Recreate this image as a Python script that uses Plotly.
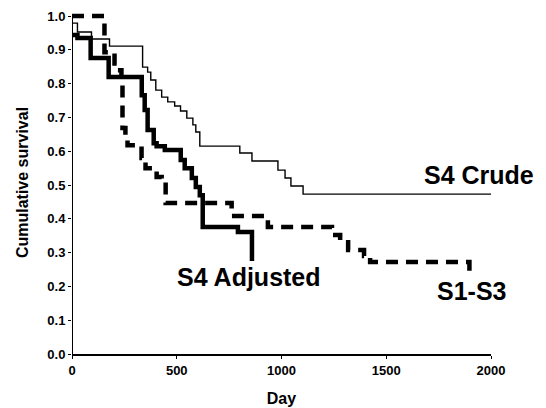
import plotly.graph_objects as go

# Kaplan-Meier style survival estimates (day, cumulative survival)
crude_days = [0, 26, 93, 179, 337, 361, 376, 400, 428, 457, 490, 518, 548, 577,
              591, 610, 801, 859, 983, 1017, 1045, 1103, 2000]
crude_surv = [0.979, 0.953, 0.932, 0.911, 0.849, 0.834, 0.811, 0.781, 0.760, 0.746,
              0.734, 0.719, 0.698, 0.678, 0.657, 0.615, 0.595, 0.571, 0.544, 0.521,
              0.497, 0.473, 0.473]

adj_days = [0, 26, 89, 175, 333, 347, 361, 390, 404, 443, 519, 538, 572, 591, 610,
            624, 792, 859]
adj_surv = [0.944, 0.935, 0.876, 0.820, 0.766, 0.722, 0.663, 0.624, 0.615, 0.604,
            0.574, 0.550, 0.521, 0.494, 0.470, 0.376, 0.361, 0.275]

s13_days = [0, 155, 203, 217, 236, 241, 255, 265, 332, 351, 404, 428, 447, 762, 935,
            1241, 1280, 1318, 1394, 1423, 1897]
s13_surv = [1.0, 0.893, 0.860, 0.840, 0.805, 0.669, 0.648, 0.618, 0.580, 0.550, 0.524,
            0.509, 0.447, 0.408, 0.376, 0.352, 0.331, 0.308, 0.290, 0.272, 0.246]

x_ticks = [0, 500, 1000, 1500, 2000]
y_ticks = [0.0, 0.1, 0.2, 0.3, 0.4, 0.5, 0.6, 0.7, 0.8, 0.9, 1.0]
y_tick_text = ["0.0", "0.1", "0.2", "0.3", "0.4", "0.5", "0.6", "0.7", "0.8", "0.9", "1.0"]

FONT = "Liberation Sans, Arial, sans-serif"

fig = go.Figure()
fig.add_trace(go.Scatter(x=crude_days, y=crude_surv, mode="lines", line_shape="hv",
                         line=dict(color="black", width=1.4), name="S4 Crude"))
fig.add_trace(go.Scatter(x=s13_days, y=s13_surv, mode="lines", line_shape="hv",
                         line=dict(color="black", width=4.5, dash="12px,8px"),
                         name="S1-S3"))
fig.add_trace(go.Scatter(x=adj_days, y=adj_surv, mode="lines", line_shape="hv",
                         line=dict(color="black", width=4.5), name="S4 Adjusted"))

# left axis line, stopping at 1.0
fig.add_shape(type="line", xref="x", yref="y", x0=0, x1=0, y0=0, y1=1.0,
              line=dict(color="black", width=2))

label_font = dict(family=FONT, size=25, color="black", weight="bold")
fig.add_annotation(x=1945, y=0.53, text="S4 Crude", showarrow=False, font=label_font)
fig.add_annotation(x=847, y=0.228, text="S4 Adjusted", showarrow=False, font=label_font)
fig.add_annotation(x=1907, y=0.186, text="S1-S3", showarrow=False, font=label_font)

tick_font = dict(family=FONT, size=13, color="black", weight="bold")
title_font = dict(family=FONT, size=16, color="black", weight="bold")

fig.update_layout(
    width=546, height=408,
    margin=dict(l=72, r=55, t=11, b=54),
    paper_bgcolor="white", plot_bgcolor="white",
    showlegend=False,
    xaxis=dict(range=[0, 2000], tickvals=x_ticks, tickfont=tick_font,
               showgrid=False, zeroline=False, showline=True, linecolor="black",
               linewidth=2, ticks="outside", ticklen=3, tickcolor="black",
               automargin=False,
               title=dict(text="Day", font=title_font, standoff=16)),
    yaxis=dict(range=[0, 1.015], tickvals=y_ticks, ticktext=y_tick_text,
               tickfont=tick_font, showgrid=False, zeroline=False, showline=False,
               ticks="outside", ticklen=3, tickcolor="black",
               automargin=False,
               title=dict(text="Cumulative survival", font=title_font, standoff=14)),
)

fig.write_html("out.html")
